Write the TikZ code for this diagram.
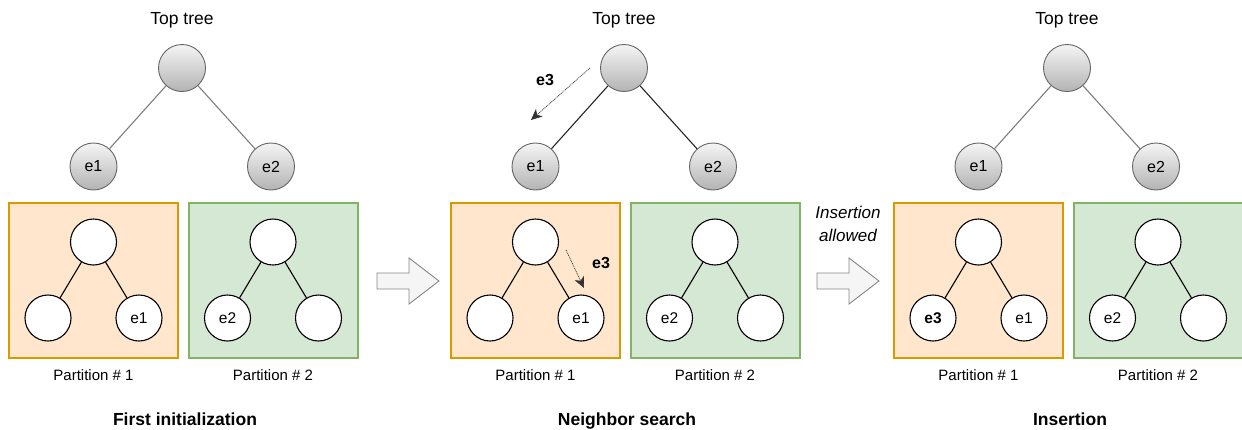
\documentclass[tikz,border=0pt]{standalone}
\usepackage{fontspec}
\setmainfont{Liberation Sans}
\usetikzlibrary{arrows.meta}
\definecolor{orfill}{HTML}{FFE6CC}
\definecolor{ordraw}{HTML}{D79B00}
\definecolor{grfill}{HTML}{D5E8D4}
\definecolor{grdraw}{HTML}{82B366}
\definecolor{gtop}{HTML}{F5F5F5}
\definecolor{gbot}{HTML}{B3B3B3}
\definecolor{gline}{HTML}{666666}
\definecolor{arrfill}{HTML}{F5F5F5}
\tikzset{
  topnode/.style={circle, draw=gline, line width=0.9pt, top color=gtop, bottom color=gbot,
    minimum size=47pt, inner sep=0pt, font=\fontsize{16}{19}\selectfont},
  leafnode/.style={circle, draw=black, line width=1.1pt, fill=white,
    minimum size=46pt, inner sep=0pt, font=\fontsize{15.5}{18}\selectfont},
  partbox/.style={line width=2pt, minimum width=169pt, minimum height=155pt, inner sep=0pt},
  pbox1/.style={partbox, fill=orfill, draw=ordraw},
  pbox2/.style={partbox, fill=grfill, draw=grdraw},
  treeedge/.style={line width=1.1pt},
  caption/.style={anchor=base, font=\fontsize{15}{18}\selectfont},
  heading/.style={anchor=base, font=\fontsize{17.5}{21}\selectfont},
  title/.style={anchor=base, font=\bfseries\fontsize{17.5}{21}\selectfont},
  blockarrow/.style={fill=arrfill, draw=gline!80, line width=0.9pt, line join=miter},
  searcharrow/.style={line width=0.7pt, draw=black!80, dash pattern=on 1pt off 0.8pt, -{Stealth[length=11pt,width=10pt,inset=3pt]}},
  e3label/.style={font=\bfseries\fontsize{16}{19}\selectfont}
}
\newcommand{\drawpanel}[4]{%
  % #1 top-line colour, #2 leaf text, #3 title, #4 extras
  \node[heading] (toplabel) at (182,24) {Top tree};
  \node[topnode] (root) at (182,68) {};
  \node[topnode] (te1) at (93.5,166.5) {e1};
  \node[topnode] (te2) at (271,166.5) {e2};
  \draw[treeedge, draw=#1] (root) -- (te1);
  \draw[treeedge, draw=#1] (root) -- (te2);
  \node[pbox1] (boxA) at (93.5,280.5) {};
  \node[pbox2] (boxB) at (273,280.5) {};
  \node[leafnode] (aroot) at (93.5,242) {};
  \node[leafnode] (aleft) at (48,318) {#2};
  \node[leafnode] (aright) at (139,318) {e1};
  \node[leafnode] (broot) at (273,242) {};
  \node[leafnode] (bleft) at (227.5,318) {e2};
  \node[leafnode] (bright) at (318.5,318) {};
  \draw[treeedge] (aroot) -- (aleft);
  \draw[treeedge] (aroot) -- (aright);
  \draw[treeedge] (broot) -- (bleft);
  \draw[treeedge] (broot) -- (bright);
  \node[caption] (capA) at (93.5,380.5) {Partition \# 1};
  \node[caption] (capB) at (273,380.5) {Partition \# 2};
  \node[title] (ttl) at (185,425) {#3};
  #4%
}
\begin{document}
\begin{tikzpicture}[x=1pt,y=-1pt]
\useasboundingbox (0,0) rectangle (1242,429);
\begin{scope}[name prefix=p1-]
  \drawpanel{gline!85}{}{First initialization}{}
\end{scope}
\begin{scope}[xshift=442pt, name prefix=p2-]
  \drawpanel{black!85}{}{Neighbor search}{%
    \coordinate (sA) at (148,68);
    \coordinate (sB) at (89,120);
    \draw[searcharrow] (sA) -- (sB);
    \node[e3label] (lab1) at (103,80) {e3};
    \coordinate (sC) at (124,250);
    \coordinate (sD) at (142,288);
    \draw[searcharrow] (sC) -- (sD);
    \node[e3label] (lab2) at (159,263) {e3};
  }
\end{scope}
\begin{scope}[xshift=885pt, name prefix=p3-]
  \drawpanel{gline!85}{\textbf{e3}}{Insertion}{}
\end{scope}
% block arrows between panels
\draw[blockarrow] (377,273) -- (409,273) -- (409,258) -- (439,281) -- (409,304) -- (409,289) -- (377,289) -- cycle;
\draw[blockarrow] (817,273) -- (849,273) -- (849,258) -- (879,281) -- (849,304) -- (849,289) -- (817,289) -- cycle;
\node[font=\itshape\fontsize{17}{23}\selectfont, align=center] (allowed) at (848,224) {Insertion\\allowed};
\end{tikzpicture}
\end{document}
